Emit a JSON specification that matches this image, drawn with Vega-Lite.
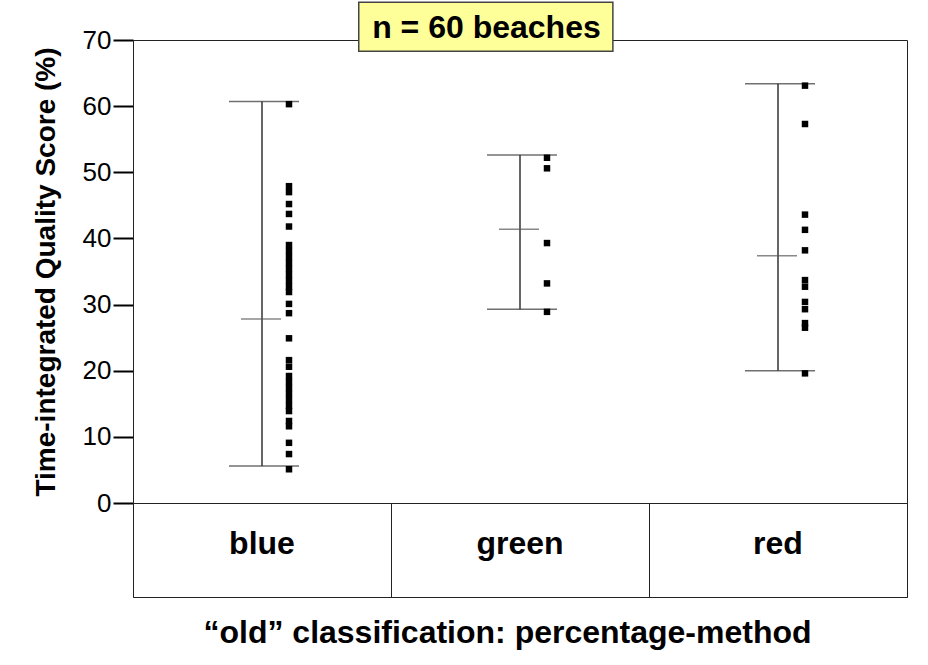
{
  "$schema": "https://vega.github.io/schema/vega-lite/v6.json",
  "autosize": {"type": "pad"},
  "padding": {"left": 31, "top": 1, "right": 5, "bottom": 5},
  "background": "white",
  "config": {
    "font": "Liberation Sans",
    "view": {"stroke": "#222", "strokeWidth": 1}
  },
  "datasets": {
    "points": [
      {"class": "blue", "score": 60.3}, {"class": "blue", "score": 47.9}, {"class": "blue", "score": 47.0},
      {"class": "blue", "score": 45.2}, {"class": "blue", "score": 43.7}, {"class": "blue", "score": 41.8},
      {"class": "blue", "score": 39.0}, {"class": "blue", "score": 38.1}, {"class": "blue", "score": 37.2},
      {"class": "blue", "score": 36.3}, {"class": "blue", "score": 35.4}, {"class": "blue", "score": 34.5},
      {"class": "blue", "score": 33.6}, {"class": "blue", "score": 32.7}, {"class": "blue", "score": 31.9},
      {"class": "blue", "score": 30.1}, {"class": "blue", "score": 28.7}, {"class": "blue", "score": 24.9},
      {"class": "blue", "score": 21.6}, {"class": "blue", "score": 20.6}, {"class": "blue", "score": 19.2},
      {"class": "blue", "score": 18.3}, {"class": "blue", "score": 17.4}, {"class": "blue", "score": 16.5},
      {"class": "blue", "score": 15.6}, {"class": "blue", "score": 14.7}, {"class": "blue", "score": 13.9},
      {"class": "blue", "score": 12.4}, {"class": "blue", "score": 11.6}, {"class": "blue", "score": 9.1},
      {"class": "blue", "score": 7.4}, {"class": "blue", "score": 5.1},
      {"class": "green", "score": 52.2}, {"class": "green", "score": 50.6}, {"class": "green", "score": 39.3},
      {"class": "green", "score": 33.2}, {"class": "green", "score": 28.9},
      {"class": "red", "score": 63.1}, {"class": "red", "score": 57.3}, {"class": "red", "score": 43.6},
      {"class": "red", "score": 41.3}, {"class": "red", "score": 38.2}, {"class": "red", "score": 33.7},
      {"class": "red", "score": 32.7}, {"class": "red", "score": 30.4}, {"class": "red", "score": 29.3},
      {"class": "red", "score": 27.2}, {"class": "red", "score": 26.5}, {"class": "red", "score": 19.6}
    ],
    "summary": [
      {"class": "blue", "min": 5.6, "mean": 27.8, "max": 60.7},
      {"class": "green", "min": 29.3, "mean": 41.4, "max": 52.6},
      {"class": "red", "min": 20.0, "mean": 37.4, "max": 63.4}
    ]
  },
  "spacing": 0,
  "bounds": "flush",
  "vconcat": [
    {
      "width": 774,
      "height": 463,
      "layer": [
        {
          "data": {"name": "summary"},
          "mark": {"type": "rule", "color": "#333", "strokeWidth": 1.5},
          "encoding": {
            "x": {"field": "class", "type": "nominal", "scale": {"domain": ["blue", "green", "red"], "paddingInner": 0, "paddingOuter": 0}, "axis": null},
            "y": {
              "field": "min", "type": "quantitative",
              "scale": {"domain": [0, 70], "nice": false, "zero": false},
              "axis": {
                "values": [0, 5, 10, 15, 20, 25, 30, 35, 40, 45, 50, 55, 60, 65, 70],
                "labelExpr": "datum.value % 10 === 0 ? datum.label : ''",
                "tickSize": {"condition": {"test": "datum.value % 10 === 0", "value": 20}, "value": 10},
                "tickColor": "black", "tickWidth": 2,
                "domainColor": "#222", "domainWidth": 1,
                "labelFontSize": 26, "labelColor": "black", "labelPadding": 2,
                "grid": false,
                "title": "Time-integrated Quality Score (%)",
                "titleFontSize": 28, "titleFontWeight": "bold", "titleColor": "black", "titlePadding": 22
              }
            },
            "y2": {"field": "max"}
          }
        },
        {
          "data": {"name": "summary"},
          "mark": {"type": "tick", "color": "#333", "thickness": 1.5, "size": 70, "xOffset": 2},
          "encoding": {
            "x": {"field": "class", "type": "nominal"},
            "y": {"field": "max", "type": "quantitative"}
          }
        },
        {
          "data": {"name": "summary"},
          "mark": {"type": "tick", "color": "#333", "thickness": 1.5, "size": 70, "xOffset": 2},
          "encoding": {
            "x": {"field": "class", "type": "nominal"},
            "y": {"field": "min", "type": "quantitative"}
          }
        },
        {
          "data": {"name": "summary"},
          "mark": {"type": "tick", "color": "#555", "thickness": 1.5, "size": 40, "xOffset": -1},
          "encoding": {
            "x": {"field": "class", "type": "nominal"},
            "y": {"field": "mean", "type": "quantitative"}
          }
        },
        {
          "data": {"name": "points"},
          "mark": {"type": "square", "color": "black", "filled": true, "opacity": 1, "size": 42, "xOffset": 27},
          "encoding": {
            "x": {"field": "class", "type": "nominal"},
            "y": {"field": "score", "type": "quantitative"}
          }
        },
        {
          "data": {"values": [{"label": "n = 60 beaches"}]},
          "mark": {"type": "rect", "fill": "#ffff99", "stroke": "#444", "strokeWidth": 1.5},
          "encoding": {
            "x": {"datum": "blue", "type": "nominal", "bandPosition": 0.875},
            "x2": {"datum": "green", "bandPosition": 0.86},
            "y": {"datum": 75.7, "type": "quantitative"},
            "y2": {"datum": 68.3}
          }
        },
        {
          "data": {"values": [{"label": "n = 60 beaches"}]},
          "mark": {"type": "text", "fontSize": 32, "fontWeight": "bold", "color": "black", "align": "center", "baseline": "middle"},
          "encoding": {
            "x": {"datum": "green", "type": "nominal", "bandPosition": 0.37},
            "y": {"datum": 71.8, "type": "quantitative"},
            "text": {"field": "label"}
          }
        }
      ]
    },
    {
      "width": 774,
      "height": 94,
      "data": {"name": "summary"},
      "mark": {"type": "text", "fontSize": 32, "fontWeight": "bold", "color": "black", "align": "center", "baseline": "alphabetic", "dy": 4},
      "encoding": {
        "x": {
          "field": "class", "type": "nominal",
          "scale": {"domain": ["blue", "green", "red"], "paddingInner": 0, "paddingOuter": 0},
          "axis": {
            "orient": "bottom",
            "title": "“old” classification: percentage-method",
            "labels": false, "ticks": false, "domain": false,
            "grid": true, "gridColor": "#222", "gridOpacity": 1, "gridWidth": 1, "tickBand": "extent",
            "titleFontSize": 32, "titleFontWeight": "bold", "titleColor": "black", "titlePadding": 20,
            "titleX": 374
          }
        },
        "text": {"field": "class"}
      }
    }
  ]
}
